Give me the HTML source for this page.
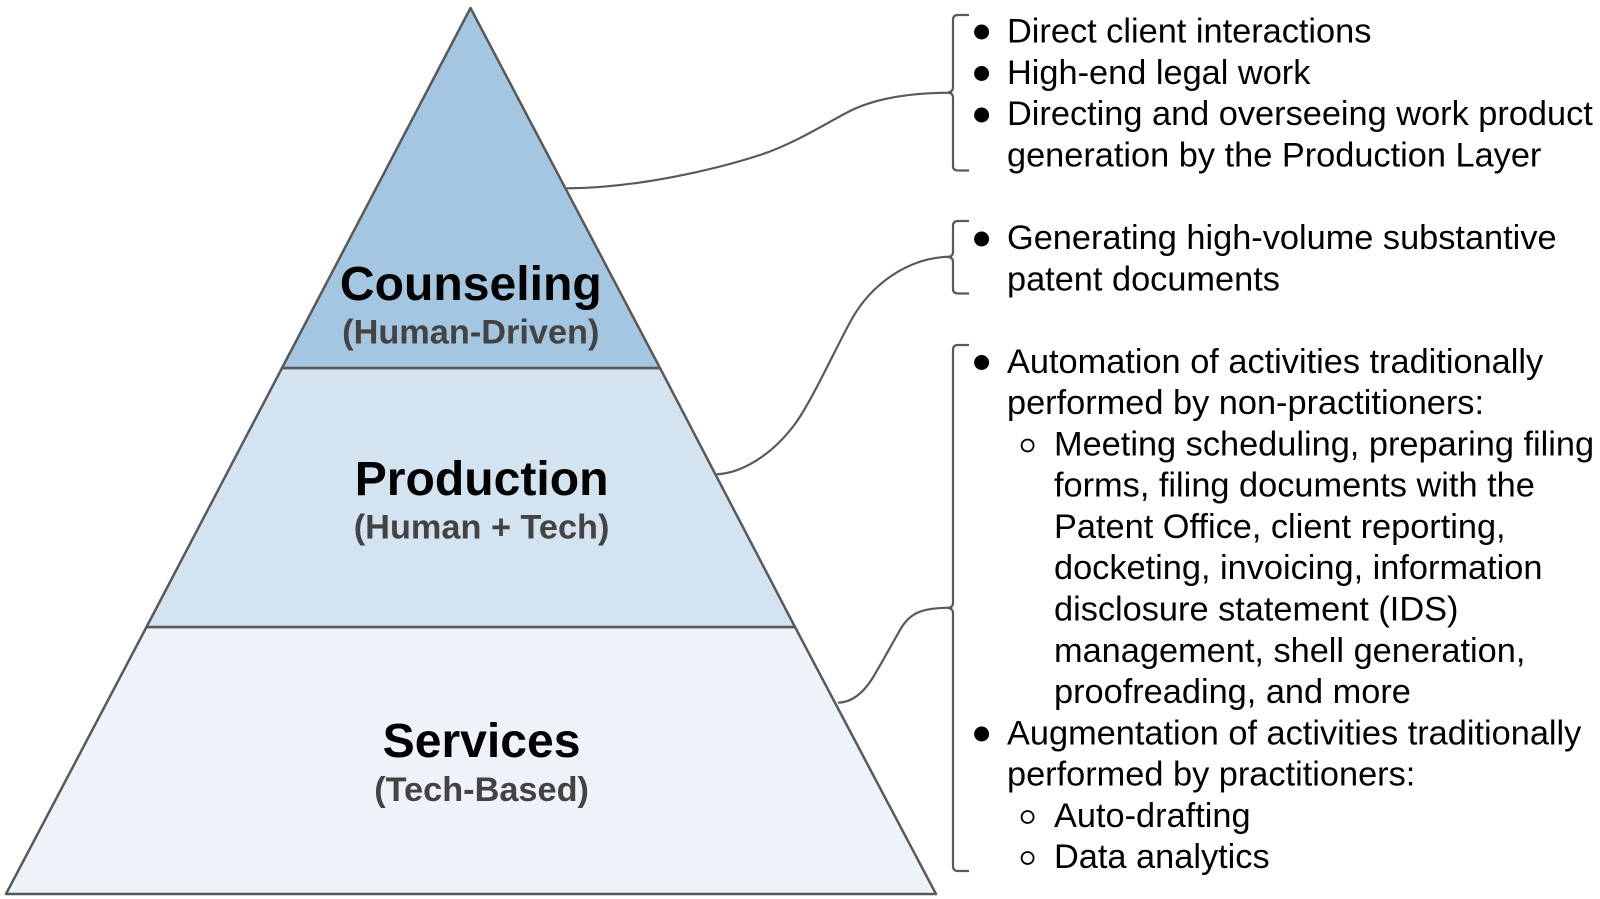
<!DOCTYPE html>
<html><head><meta charset="utf-8"><style>
html,body{margin:0;padding:0;background:#fff;width:1600px;height:899px;overflow:hidden}
svg{display:block}
text{font-family:"Liberation Sans",Arial,sans-serif}
.b{font-size:34.35px;fill:#000}
.h{font-size:48.1px;font-weight:bold;fill:#000;text-anchor:middle}
.s{font-size:34.3px;font-weight:bold;fill:#434343;text-anchor:middle}
.l{fill:none;stroke:#595959;stroke-width:2.2}
</style></head><body>
<svg width="1600" height="899" viewBox="0 0 1600 899" xmlns="http://www.w3.org/2000/svg">
<polygon points="6,894 146.5,627 795,627 936,894" fill="#eef3fa" stroke="#595959" stroke-width="2.5" stroke-linejoin="round"/>
<polygon points="146.5,627 282,368 660,368 795,627" fill="#d3e3f0" stroke="#595959" stroke-width="2.5" stroke-linejoin="round"/>
<polygon points="282,368 470.5,8 660,368" fill="#a4c6e0" stroke="#595959" stroke-width="2.5" stroke-linejoin="round"/>

<text class="h" x="470.8" y="300">Counseling</text>
<text class="s" x="470.8" y="343.3">(Human-Driven)</text>
<text class="h" x="481.6" y="495">Production</text>
<text class="s" x="481.6" y="538.3">(Human + Tech)</text>
<text class="h" x="481.6" y="757">Services</text>
<text class="s" x="481.6" y="801">(Tech-Based)</text>

<path class="l" d="M566.7 188.3 C640 188 720 168 760 155 C795 143.6 830 121 850 111 C878 97 915 92.7 952 92.7"/>
<path class="l" d="M716.7 474.3 C742 473 772 455 795 424 C812 401 838 343 853 317 C870 288 905 256.7 952 256.7"/>
<path class="l" d="M838 702.7 C852 702.5 863 693 872 679 C880 666 892 644 900 630 C909 614 920 607.5 952 607.7"/>

<path class="l" d="M969 15 H958 Q953 15 953 20 V87 Q953 92 948 92.5 Q953 93 953 98 V166 Q953 170.5 958 170.5 H969"/>
<path class="l" d="M969 221 H958 Q953 221 953 226 V252 Q953 256.5 948 257 Q953 257.5 953 262 V289 Q953 293.5 958 293.5 H969"/>
<path class="l" d="M969 345 H958 Q953 345 953 350 V603 Q953 607.5 948 608 Q953 608.5 953 613 V866 Q953 871 958 871 H969"/>

<g fill="#000">
<circle cx="981.6" cy="32" r="7.5"/>
<circle cx="981.6" cy="73.5" r="7.5"/>
<circle cx="981.6" cy="115" r="7.5"/>
<circle cx="981.6" cy="239" r="7.5"/>
<circle cx="981.6" cy="362.5" r="7.5"/>
<circle cx="981.6" cy="734" r="7.5"/>
</g>
<g fill="none" stroke="#000" stroke-width="1.8">
<circle cx="1027.6" cy="445.5" r="6"/>
<circle cx="1027.6" cy="817" r="6"/>
<circle cx="1027.6" cy="858" r="6"/>
</g>

<g class="b">
<text class="b" x="1007" y="42.6">Direct client interactions</text>
<text class="b" x="1007" y="83.9">High-end legal work</text>
<text class="b" x="1007" y="125.2">Directing and overseeing work product</text>
<text class="b" x="1007" y="166.5">generation by the Production Layer</text>
<text class="b" x="1007" y="249">Generating high-volume substantive</text>
<text class="b" x="1007" y="290.3">patent documents</text>
<text class="b" x="1007" y="372.8">Automation of activities traditionally</text>
<text class="b" x="1007" y="414.1">performed by non-practitioners:</text>
<text class="b" x="1054" y="455.4">Meeting scheduling, preparing filing</text>
<text class="b" x="1054" y="496.6">forms, filing documents with the</text>
<text class="b" x="1054" y="537.9">Patent Office, client reporting,</text>
<text class="b" x="1054" y="579.2">docketing, invoicing, information</text>
<text class="b" x="1054" y="620.5">disclosure statement (IDS)</text>
<text class="b" x="1054" y="661.8">management, shell generation,</text>
<text class="b" x="1054" y="703.1">proofreading, and more</text>
<text class="b" x="1007" y="744.4">Augmentation of activities traditionally</text>
<text class="b" x="1007" y="785.7">performed by practitioners:</text>
<text class="b" x="1054" y="827">Auto-drafting</text>
<text class="b" x="1054" y="867.8">Data analytics</text>
</g>
</svg>
</body></html>
